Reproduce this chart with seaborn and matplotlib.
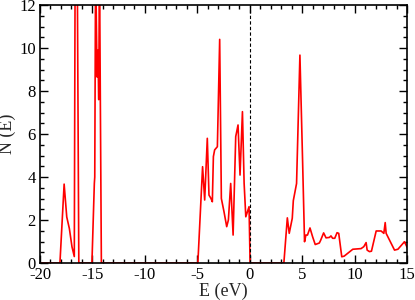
import matplotlib
matplotlib.use("Agg")
import matplotlib.pyplot as plt
import seaborn as sns
import pandas as pd
from matplotlib.ticker import MultipleLocator

# density of states (values above 12 are clipped by the axes)
energy = [
    -20, -18.1, -17.7, -17.45, -17.2, -16.95, -16.73, -16.65, -16.45, -16.3,
    -15.05, -14.82, -14.78, -14.7, -14.56, -14.48, -14.4, -14.33, -14.15,
    -4.95, -4.5, -4.3, -4.05, -3.89, -3.7, -3.57, -3.47, -3.35, -3.09,
    -2.87, -2.71, -2.46, -2.2, -2.04, -1.82, -1.59, -1.34, -1.12, -0.93,
    -0.7, -0.54, -0.38, -0.22, -0.07, 0.03,
    3.25, 3.58, 3.76, 4.05, 4.15, 4.46, 4.78, 5.04, 5.22, 5.35,
    5.5, 5.74, 5.99, 6.24, 6.63, 6.75, 7.04, 7.27, 7.59, 7.74,
    7.9, 8.1, 8.32, 8.48, 8.77, 9.0, 9.82, 10.61, 10.87, 11.09,
    11.19, 11.41, 11.6, 12.05, 12.52, 12.78, 12.91, 13.0, 13.8, 14.12,
    14.75, 15.0,
]
dos = [
    0, 0, 3.67, 2.14, 1.6, 0.75, 0.3, 14, 14, 0,
    0, 3.7, 4.0, 14, 8.65, 9.9, 7.6, 14, 0,
    0, 4.48, 2.93, 5.8, 3.16, 3.0, 2.85, 4.95, 5.26, 5.41,
    10.4, 3.0, 2.39, 1.69, 2.0, 3.7, 1.3, 5.88, 6.42, 4.09,
    7.04, 3.71, 2.15, 2.39, 2.62, 0,
    0, 2.1, 1.38, 2.08, 2.9, 3.7, 9.67, 4.64, 0.99, 1.3,
    1.3, 1.63, 1.22, 0.86, 0.93, 1.05, 1.4, 1.17, 1.19, 1.26,
    1.15, 1.15, 1.41, 1.38, 0.29, 0.32, 0.64, 0.67, 0.76, 0.95,
    0.6, 0.53, 0.55, 1.49, 1.49, 1.38, 1.88, 1.38, 0.6, 0.64,
    0.99, 0.73,
]
fermi_level = 0.0

df = pd.DataFrame({"E": energy, "N": dos})

sns.set_theme(style="ticks")
plt.rcParams["font.family"] = ["Liberation Serif", "DejaVu Serif"]
plt.rcParams["axes.unicode_minus"] = False

fig = plt.figure(figsize=(4.15, 3.0), dpi=100)
ax = fig.add_axes([0.0964, 0.1233, 0.8846, 0.86])

sns.lineplot(data=df, x="E", y="N", estimator=None, sort=False,
             color="#ff0000", linewidth=1.2, ax=ax)
ax.axvline(fermi_level, color="black", linestyle=(0, (3, 2)), linewidth=0.8)

ax.set_xlim(-20, 15)
ax.set_ylim(0, 12)
ax.xaxis.set_major_locator(MultipleLocator(5))
ax.xaxis.set_minor_locator(MultipleLocator(1))
ax.yaxis.set_major_locator(MultipleLocator(2))
ax.yaxis.set_minor_locator(MultipleLocator(0.5))
ax.tick_params(which="both", direction="in", top=True, right=True,
               labelsize=12, colors="black", width=1.0, pad=3)
ax.tick_params(which="major", length=6)
ax.tick_params(which="minor", length=3)
for sp in ax.spines.values():
    sp.set_linewidth(1.2)
    sp.set_color("black")

ax.set_xlabel("E (eV)", fontsize=13, labelpad=0)
ax.set_ylabel("N (E)", fontsize=13, labelpad=2)

fig.savefig("out.png", dpi=100)
